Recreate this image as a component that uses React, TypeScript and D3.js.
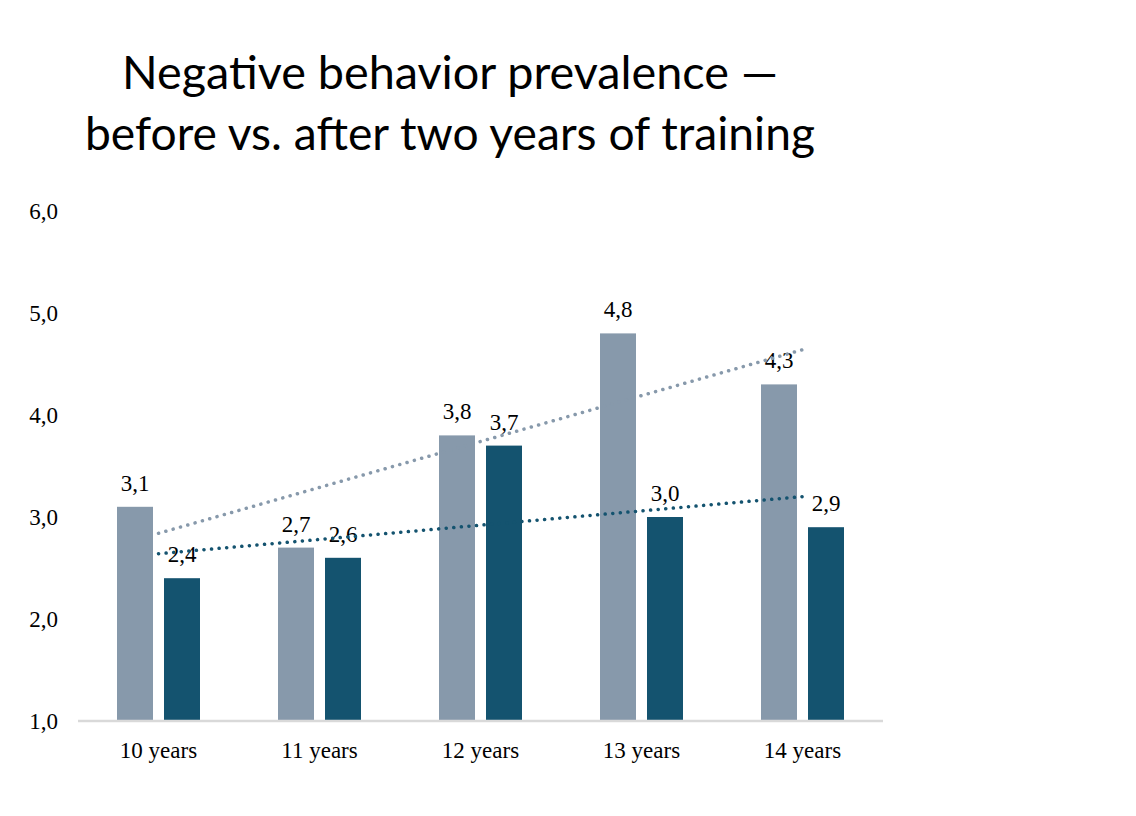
import React, { useEffect, useRef } from 'react';
import * as d3 from 'd3';

const categories = ['10 years', '11 years', '12 years', '13 years', '14 years'];
const beforeValues = [3.1, 2.7, 3.8, 4.8, 4.3];
const afterValues = [2.4, 2.6, 3.7, 3.0, 2.9];
const yTicks = [1, 2, 3, 4, 5, 6];
const titleLines = ['Negative behavior prevalence —', 'before vs. after two years of training'];

const GREY = '#8799ab';
const TEAL = '#14536f';

// least squares fit, like the spreadsheet's linear trendline
function linearFit(values: number[]) {
  const n = values.length;
  const xs = values.map((_, i) => i);
  const mx = d3.mean(xs) || 0;
  const my = d3.mean(values) || 0;
  const num = d3.sum(xs, (x, i) => (x - mx) * (values[i] - my));
  const den = d3.sum(xs, x => (x - mx) * (x - mx));
  const slope = num / den;
  return [0, n - 1].map(i => my + slope * (i - mx));
}

const fmt = (v: number) => v.toFixed(1).replace('.', ',');

const App: React.FC = () => {
  const ref = useRef<SVGSVGElement>(null);

  useEffect(() => {
    document.body.style.margin = '0';
    if (!ref.current) return;
    const svg = d3.select(ref.current);
    svg.selectAll('*').remove();

    const left = 78, right = 883, top = 211, bottom = 721;
    const serif = '"Liberation Serif", "Times New Roman", serif';

    const x = d3.scaleBand().domain(categories).range([left, right]);
    const y = d3.scaleLinear().domain([1, 6]).range([bottom, top]);
    const barW = 36;
    const gap = 11;

    // title
    svg.append('g')
      .selectAll('text')
      .data(titleLines)
      .enter().append('text')
      .attr('x', 450)
      .attr('y', (d, i) => 89 + i * 61)
      .attr('text-anchor', 'middle')
      .attr('font-family', 'Lato, "Noto Sans", sans-serif')
      .attr('font-size', '46px')
      .attr('textLength', (d, i) => (i === 0 ? 656 : 730))
      .attr('lengthAdjust', 'spacingAndGlyphs')
      .attr('fill', '#000')
      .text(d => d);

    // y labels
    svg.append('g')
      .selectAll('text')
      .data(yTicks)
      .enter().append('text')
      .attr('x', 58)
      .attr('y', d => y(d))
      .attr('dy', '0.35em')
      .attr('text-anchor', 'end')
      .attr('font-family', serif)
      .attr('font-size', '23px')
      .text(d => fmt(d));

    const groups = svg.append('g')
      .selectAll('g')
      .data(categories)
      .enter().append('g')
      .attr('transform', d => `translate(${(x(d) || 0) + x.bandwidth() / 2},0)`);

    const series = [
      { values: beforeValues, color: GREY, dx: -gap / 2 - barW },
      { values: afterValues, color: TEAL, dx: gap / 2 },
    ];

    series.forEach(s => {
      groups.append('rect')
        .attr('x', s.dx)
        .attr('y', (d, i) => y(s.values[i]))
        .attr('width', barW)
        .attr('height', (d, i) => bottom - y(s.values[i]))
        .attr('fill', s.color);

      groups.append('text')
        .attr('x', s.dx + barW / 2)
        .attr('y', (d, i) => y(s.values[i]) - 16)
        .attr('text-anchor', 'middle')
        .attr('font-family', serif)
        .attr('font-size', '23px')
        .text((d, i) => fmt(s.values[i]));
    });

    // axis line
    svg.append('line')
      .attr('x1', left).attr('x2', right)
      .attr('y1', bottom).attr('y2', bottom)
      .attr('stroke', '#d9d9d9')
      .attr('stroke-width', 2.5);

    // x labels
    svg.append('g')
      .selectAll('text')
      .data(categories)
      .enter().append('text')
      .attr('x', d => (x(d) || 0) + x.bandwidth() / 2)
      .attr('y', 758)
      .attr('text-anchor', 'middle')
      .attr('font-family', serif)
      .attr('font-size', '23px')
      .text(d => d);

    // dotted trendlines
    const line = d3.line<number>()
      .x((d, i) => (x(categories[i === 0 ? 0 : categories.length - 1]) || 0) + x.bandwidth() / 2)
      .y(d => y(d));

    series.forEach(s => {
      svg.append('path')
        .attr('d', line(linearFit(s.values)))
        .attr('fill', 'none')
        .attr('stroke', s.color)
        .attr('stroke-width', 3.5)
        .attr('stroke-linecap', 'round')
        .attr('stroke-dasharray', '0.1 7.5');
    });
  }, []);

  return <svg ref={ref} width={1136} height={816} style={{ display: 'block', background: '#fff' }} />;
};

export default App;
